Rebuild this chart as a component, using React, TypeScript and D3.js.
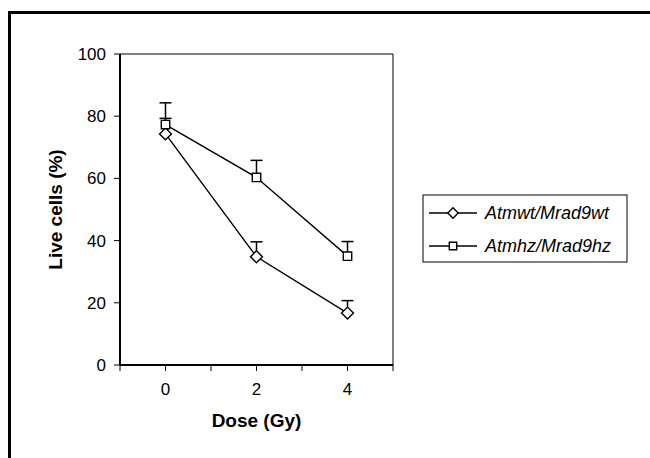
import { useEffect, useRef } from 'react';
import * as d3 from 'd3';

const doses = [0, 2, 4];
const wtValues = [74.3, 34.8, 16.7];
const wtErrors = [5.0, 4.8, 4.0];
const hzValues = [77.3, 60.3, 35.0];
const hzErrors = [7.0, 5.5, 4.7];
const seriesNames = ['Atmwt/Mrad9wt', 'Atmhz/Mrad9hz'];
const yTicks = [0, 20, 40, 60, 80, 100];
const xTicks = [-1, 0, 1, 2, 3, 4, 5];
const xLabels = [0, 2, 4];

const App = () => {
    const ref = useRef<SVGSVGElement>(null);

    useEffect(() => {
        const svg = d3.select(ref.current);
        svg.selectAll('*').remove();
        const font = 'Liberation Sans, Arial, sans-serif';

        // outer frame, open to the right and bottom
        svg.append('path')
            .attr('d', 'M9.5,470 L9.5,12.5 L660,12.5')
            .attr('fill', 'none')
            .attr('stroke', '#000')
            .attr('stroke-width', 3);

        const x = d3.scaleLinear().domain([-1, 5]).range([120, 393]);
        const y = d3.scaleLinear().domain([0, 100]).range([365, 54]);

        // plot frame
        svg.append('path')
            .attr('d', `M${x(-1)},${y(0)} L${x(-1)},${y(100)} L${x(5)},${y(100)} L${x(5)},${y(0)} Z`)
            .attr('fill', 'none')
            .attr('stroke', '#000')
            .attr('stroke-width', 1);
        svg.append('line')
            .attr('x1', x(-1)).attr('x2', x(-1))
            .attr('y1', y(0)).attr('y2', y(100))
            .attr('stroke', '#000').attr('stroke-width', 2);
        svg.append('line')
            .attr('x1', x(-1)).attr('x2', x(5))
            .attr('y1', y(0)).attr('y2', y(0))
            .attr('stroke', '#000').attr('stroke-width', 2);

        // y ticks
        const yg = svg.append('g');
        yg.selectAll('line').data(yTicks).enter().append('line')
            .attr('x1', x(-1) - 6).attr('x2', x(-1))
            .attr('y1', d => y(d)).attr('y2', d => y(d))
            .attr('stroke', '#000');
        yg.selectAll('text').data(yTicks).enter().append('text')
            .attr('x', x(-1) - 14)
            .attr('y', d => y(d))
            .attr('dy', '0.35em')
            .attr('text-anchor', 'end')
            .attr('font-family', font)
            .attr('font-size', 17)
            .text(d => d);

        // x ticks
        const xg = svg.append('g');
        xg.selectAll('line').data(xTicks).enter().append('line')
            .attr('x1', d => x(d)).attr('x2', d => x(d))
            .attr('y1', y(0)).attr('y2', y(0) + 6)
            .attr('stroke', '#000');
        xg.selectAll('text').data(xLabels).enter().append('text')
            .attr('x', d => x(d))
            .attr('y', y(0) + 30)
            .attr('text-anchor', 'middle')
            .attr('font-family', font)
            .attr('font-size', 17)
            .text(d => d);

        svg.append('text')
            .attr('x', x(2))
            .attr('y', y(0) + 62)
            .attr('text-anchor', 'middle')
            .attr('font-family', font)
            .attr('font-weight', 'bold')
            .attr('font-size', 19)
            .text('Dose (Gy)');

        svg.append('text')
            .attr('transform', `translate(62,${(y(0) + y(100)) / 2}) rotate(-90)`)
            .attr('text-anchor', 'middle')
            .attr('font-family', font)
            .attr('font-weight', 'bold')
            .attr('font-size', 19)
            .text('Live cells (%)');

        const series = [
            { values: wtValues, errors: wtErrors, symbol: d3.symbolDiamond2 },
            { values: hzValues, errors: hzErrors, symbol: d3.symbolSquare2 },
        ];

        const line = d3.line<number>()
            .x((_, i) => x(doses[i]))
            .y(d => y(d));

        series.forEach(s => {
            const g = svg.append('g');
            // error bars (upper only)
            s.values.forEach((v, i) => {
                const cx = x(doses[i]);
                g.append('line')
                    .attr('x1', cx).attr('x2', cx)
                    .attr('y1', y(v)).attr('y2', y(v + s.errors[i]))
                    .attr('stroke', '#000').attr('stroke-width', 1.5);
                g.append('line')
                    .attr('x1', cx - 6).attr('x2', cx + 6)
                    .attr('y1', y(v + s.errors[i])).attr('y2', y(v + s.errors[i]))
                    .attr('stroke', '#000').attr('stroke-width', 1.5);
            });
            g.append('path')
                .attr('d', line(s.values))
                .attr('fill', 'none')
                .attr('stroke', '#000')
                .attr('stroke-width', 1.4);
            g.selectAll('path.pt').data(s.values).enter().append('path')
                .attr('class', 'pt')
                .attr('d', d3.symbol(s.symbol, 90)())
                .attr('transform', (d, i) => `translate(${x(doses[i])},${y(d)})`)
                .attr('fill', '#fff')
                .attr('stroke', '#000')
                .attr('stroke-width', 1.4);
        });

        // legend
        const lg = svg.append('g');
        lg.append('rect')
            .attr('x', 423).attr('y', 195)
            .attr('width', 204).attr('height', 67)
            .attr('fill', '#fff')
            .attr('stroke', '#000')
            .attr('stroke-width', 1);
        seriesNames.forEach((name, i) => {
            const ly = 213 + i * 33;
            lg.append('line')
                .attr('x1', 429).attr('x2', 477)
                .attr('y1', ly).attr('y2', ly)
                .attr('stroke', '#000').attr('stroke-width', 1.4);
            lg.append('path')
                .attr('d', d3.symbol(series[i].symbol, 70)())
                .attr('transform', `translate(453,${ly})`)
                .attr('fill', '#fff')
                .attr('stroke', '#000')
                .attr('stroke-width', 1.4);
            lg.append('text')
                .attr('x', 485).attr('y', ly)
                .attr('dy', '0.35em')
                .attr('font-family', font)
                .attr('font-style', 'italic')
                .attr('font-size', 18)
                .text(name);
        });
    }, []);

    return (
        <svg ref={ref} width={650} height={458}
            style={{ position: 'absolute', left: 0, top: 0, background: '#fff' }} />
    );
};

export default App;
